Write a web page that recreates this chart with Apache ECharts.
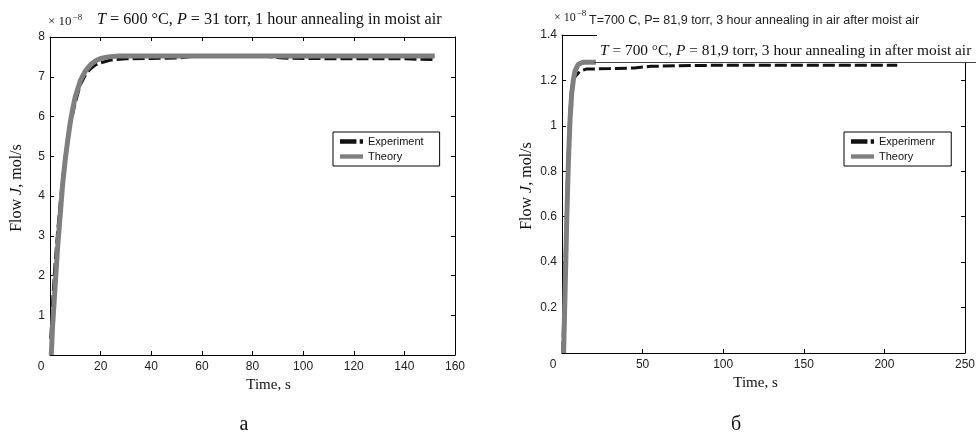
<!DOCTYPE html>
<html>
<head>
<meta charset="utf-8">
<script src="https://cdn.jsdelivr.net/npm/echarts@6/dist/echarts.min.js"></script>
<style>
html, body { margin: 0; padding: 0; background: #fff; }
#main { width: 976px; height: 445px; }
</style>
</head>
<body>
<div id="main"></div>
<script>
// chart a: 600 C, 31 torr  (flow in units of 1e-8 mol/s)
var expA = [[0.3,0.4],[1,1.3],[2,2.3],[3,3.1],[4,3.8],[5,4.45],[6,5.0],[7,5.4],[8,5.8],[10,6.35],[12,6.8],
  [14,7.05],[16,7.2],[18,7.3],[20,7.35],[24,7.42],[30,7.45],[40,7.46],[50,7.47],[56,7.51],[86,7.51],
  [92,7.47],[100,7.46],[120,7.45],[140,7.45],[152,7.43]];
var theoryA = [[0.5,0],[1,0.7],[2,1.7],[3,2.7],[4,3.5],[5,4.3],[6,4.9],[7,5.4],[8,5.85],[9,6.2],[10,6.5],
  [12,6.9],[14,7.15],[16,7.3],[18,7.4],[20,7.46],[23,7.5],[27,7.52],[152,7.52]];

// chart b: 700 C, 81,9 torr
var expB = [[0.5,0],[1.5,0.3],[2.5,0.55],[3.5,0.8],[4.5,1.0],[5.5,1.13],[6.5,1.2],[8.5,1.22],[11,1.24],
  [15,1.25],[30,1.252],[45,1.255],[55,1.262],[80,1.266],[120,1.267],[208,1.267]];
var theoryB = [[1,0],[2,0.3],[3,0.6],[4,0.85],[5,1.03],[6,1.14],[7,1.2],[8,1.24],[10,1.27],[13,1.28],[21,1.28]];

var legendA = ['Experiment', 'Theory'];
var legendB = ['Experimenr', 'Theory'];

var sans = 'Liberation Sans, Arial, sans-serif';
var serif = 'Liberation Serif, Times New Roman, serif';

// legend samples: dash + dot for experiment, solid bar for theory
var dashIcon = 'path://M0,0H15V4H0Z M18,0H21V4H18Z';
var solidIcon = 'path://M0,0H21V4H0Z';

function xAx(grid, max, step, top) {
  return {
    type: 'value', gridIndex: grid, min: 0, max: max, interval: step,
    position: top ? 'top' : 'bottom',
    axisLine: { show: true, onZero: false, lineStyle: { color: '#000', width: 1 } },
    axisTick: { show: true, inside: true, length: 4, lineStyle: { color: '#000' } },
    splitLine: { show: false },
    axisLabel: {
      show: !top, margin: 6, color: '#222', fontFamily: sans, fontSize: 12,
      formatter: function (v) { return v === 0 ? '{z|0}' : String(v); },
      rich: { z: { padding: [0, 18, 0, 0], color: '#222', fontFamily: sans, fontSize: 12 } }
    },
    name: top ? '' : 'Time, s',
    nameLocation: 'middle', nameGap: 19,
    nameTextStyle: { fontFamily: serif, fontSize: 15, color: '#111',
      padding: grid === 0 ? [0, 0, 0, 32] : [0, 16, 0, 0] }
  };
}

function yAx(grid, max, step, right) {
  return {
    type: 'value', gridIndex: grid, min: 0, max: max, interval: step,
    position: right ? 'right' : 'left',
    axisLine: { show: true, onZero: false, lineStyle: { color: '#000', width: 1 } },
    axisTick: { show: true, inside: true, length: 4, lineStyle: { color: '#000' } },
    splitLine: { show: false },
    axisLabel: {
      show: !right, margin: 5, color: '#222', fontFamily: sans, fontSize: 12,
      formatter: function (v) { return v === 0 ? '' : String(+v.toFixed(1)); }
    },
    name: right ? '' : '{n|Flow }{i|J}{n|, mol/s}',
    nameLocation: 'middle', nameGap: grid === 0 ? 25 : 27,
    nameTextStyle: {
      padding: [0, 0, 0, 16],
      rich: {
        n: { fontFamily: serif, fontSize: 16, color: '#111' },
        i: { fontFamily: serif, fontSize: 16, fontStyle: 'italic', color: '#111' }
      }
    }
  };
}

function legendBox(names, left, top) {
  return {
    data: [{ name: names[0], icon: dashIcon }, { name: names[1], icon: solidIcon }],
    left: left, top: top, orient: 'vertical',
    itemWidth: 23, itemHeight: 5, itemGap: 4,
    padding: [4, 16, 4, 7],
    borderColor: '#000', borderWidth: 1, backgroundColor: '#fff',
    textStyle: { fontFamily: sans, fontSize: 11, color: '#111' },
    selectedMode: false
  };
}

var expStyle = { color: '#111', width: 3, type: [12, 4] };
var theoryStyle = { color: '#7f7f7f', width: 5 };

var option = {
  backgroundColor: '#fff',
  animation: false,
  grid: [
    { left: 50, right: 521, top: 37, bottom: 90, containLabel: false, outerBoundsMode: 'none' },
    { left: 562, right: 11, top: 35, bottom: 92, containLabel: false, outerBoundsMode: 'none' }
  ],
  xAxis: [xAx(0, 160, 20, false), xAx(0, 160, 20, true), xAx(1, 250, 50, false), xAx(1, 250, 50, true)],
  yAxis: [yAx(0, 8, 1, false), yAx(0, 8, 1, true), yAx(1, 1.4, 0.2, false), yAx(1, 1.4, 0.2, true)],
  legend: [legendBox(legendA, 333, 132), legendBox(legendB, 844, 132)],
  series: [
    { name: 'Experiment', type: 'line', xAxisIndex: 0, yAxisIndex: 0, data: expA,
      showSymbol: false, symbol: 'none', lineStyle: expStyle, itemStyle: { color: '#111' } },
    { name: 'Theory', type: 'line', xAxisIndex: 0, yAxisIndex: 0, data: theoryA,
      showSymbol: false, symbol: 'none', lineStyle: theoryStyle, itemStyle: { color: '#7f7f7f' } },
    { name: 'Experimenr', type: 'line', xAxisIndex: 2, yAxisIndex: 2, data: expB,
      showSymbol: false, symbol: 'none', lineStyle: expStyle, itemStyle: { color: '#111' } },
    { name: 'Theory', type: 'line', xAxisIndex: 2, yAxisIndex: 2, data: theoryB,
      showSymbol: false, symbol: 'none', lineStyle: theoryStyle, itemStyle: { color: '#7f7f7f' } }
  ],
  graphic: [
    // pasted caption box over the top of chart b
    { type: 'rect', z: 100, shape: { x: 597, y: 0, width: 379, height: 62 }, style: { fill: '#fff' } },
    { type: 'line', z: 101, shape: { x1: 594, y1: 62.5, x2: 976, y2: 62.5 }, style: { stroke: '#444', lineWidth: 1 } },
    { type: 'text', z: 102, x: 48, y: 22, style: {
        text: '{a|× 10}{s|−8}', textVerticalAlign: 'middle',
        rich: { a: { fontFamily: serif, fontSize: 13, fill: '#222' },
                s: { fontFamily: serif, fontSize: 9, fill: '#222', padding: [0, 0, 9, 1] } } } },
    { type: 'text', z: 102, x: 97, y: 20, style: {
        text: '{i|T} = 600 °C, {i|P} = 31 torr, 1 hour annealing in moist air', textVerticalAlign: 'middle',
        rich: { i: { fontFamily: serif, fontSize: 16.2, fontStyle: 'italic', fill: '#111' } },
        font: '16.2px ' + serif, fill: '#111' } },
    { type: 'text', z: 102, x: 554, y: 18, style: {
        text: '{a|× 10}{s|−8}', textVerticalAlign: 'middle',
        rich: { a: { fontFamily: serif, fontSize: 12, fill: '#222' },
                s: { fontFamily: serif, fontSize: 9, fill: '#222', padding: [0, 0, 9, 1] } } } },
    { type: 'text', z: 102, x: 589, y: 21, style: {
        text: 'T=700 C, P= 81,9 torr, 3 hour annealing in air after moist air', textVerticalAlign: 'middle',
        font: '12.5px ' + sans, fill: '#222' } },
    { type: 'text', z: 102, x: 600, y: 51, style: {
        text: '{i|T} = 700 °C, {i|P} = 81,9 torr, 3 hour annealing in after moist air', textVerticalAlign: 'middle',
        rich: { i: { fontFamily: serif, fontSize: 15.4, fontStyle: 'italic', fill: '#111' } },
        font: '15.4px ' + serif, fill: '#111' } },
    { type: 'text', z: 102, x: 244, y: 425, style: {
        text: 'а', textAlign: 'center', textVerticalAlign: 'middle', font: '20px ' + serif, fill: '#111' } },
    { type: 'text', z: 102, x: 736, y: 425, style: {
        text: 'б', textAlign: 'center', textVerticalAlign: 'middle', font: '20px ' + serif, fill: '#111' } }
  ]
};

var chart = echarts.init(document.getElementById('main'));
chart.setOption(option);
</script>
</body>
</html>
